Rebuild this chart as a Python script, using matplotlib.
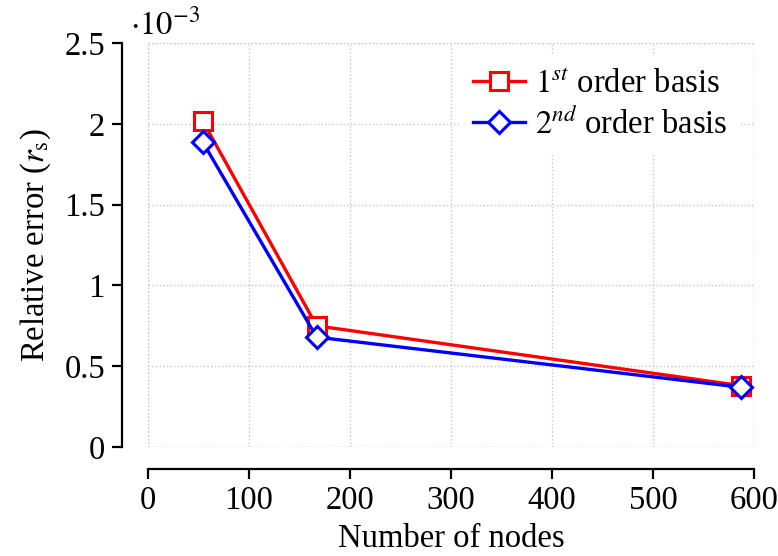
import matplotlib
matplotlib.use("Agg")
import matplotlib.pyplot as plt
from matplotlib.ticker import FuncFormatter

plt.rcParams['font.family'] = ['Liberation Serif', 'DejaVu Serif']
plt.rcParams['mathtext.fontset'] = 'stix'

# mesh size vs. relative error for both basis orders
nodes = [54, 167, 587]
err_first = [2.02e-3, 0.75e-3, 0.38e-3]
err_second = [1.89e-3, 0.68e-3, 0.37e-3]

fs = 23.5

fig = plt.figure(figsize=(7.78, 5.56), dpi=100)
ax = fig.add_axes([0.1902, 0.196, 0.7788, 0.7266])

ax.plot(nodes, err_first, '-s', color='red', linewidth=2.4, markersize=13,
        markerfacecolor='white', markeredgewidth=2.2, label='$1^{st}$ order basis')
ax.plot(nodes, err_second, '-D', color='blue', linewidth=2.4, markersize=11,
        markerfacecolor='white', markeredgewidth=2.2, label='$2^{nd}$ order basis')

ax.set_xlim(0, 600)
ax.set_ylim(0, 2.5e-3)
ax.set_xticks([0, 100, 200, 300, 400, 500, 600])
ax.set_yticks([0, 0.5e-3, 1e-3, 1.5e-3, 2e-3, 2.5e-3])
ax.yaxis.set_major_formatter(FuncFormatter(lambda v, p: f"{v*1e3:g}"))

# detached axis lines, grid box only dotted
ax.spines['top'].set_visible(False)
ax.spines['right'].set_visible(False)
ax.spines['left'].set_position(('outward', 19))
ax.spines['bottom'].set_position(('outward', 16))
for s in ('left', 'bottom'):
    ax.spines[s].set_linewidth(1.6)
ax.tick_params(direction='out', length=7, width=1.6, labelsize=fs, pad=5)

ax.grid(True, linestyle=':', color='#c8c8c8', linewidth=1.0)
for v in (0, 600):
    ax.axvline(v, linestyle=':', color='#c8c8c8', linewidth=1.0, zorder=0)
for v in (0, 2.5e-3):
    ax.axhline(v, linestyle=':', color='#c8c8c8', linewidth=1.0, zorder=0)

ax.set_xlabel('Number of nodes', fontsize=fs, labelpad=5)
ax.set_ylabel(r'Relative error ($r_\mathrm{s}$)', fontsize=fs, labelpad=8)
fig.text(0.167, 0.955, r'$\cdot 10^{-3}$', fontsize=fs, va='center', ha='left')

leg = ax.legend(loc='upper right', fontsize=fs, frameon=True, fancybox=False,
                edgecolor='none', handlelength=1.6, handletextpad=0.3,
                borderaxespad=0.4, labelspacing=0.25)
leg.get_frame().set_alpha(1.0)

fig.savefig('out.png', dpi=100)
